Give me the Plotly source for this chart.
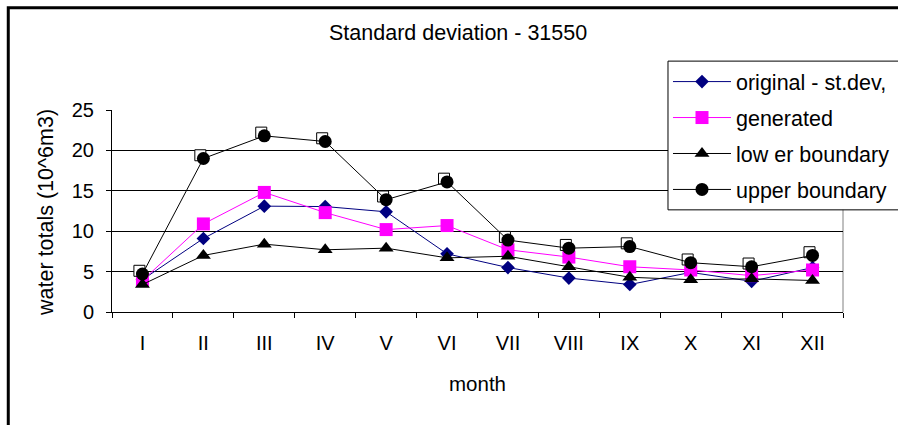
import plotly.graph_objects as go

months = ["I", "II", "III", "IV", "V", "VI", "VII", "VIII", "IX", "X", "XI", "XII"]
original = [4.0, 9.1, 13.1, 13.05, 12.4, 7.2, 5.5, 4.2, 3.4, 4.9, 3.8, 5.5]
generated = [3.9, 10.9, 14.8, 12.3, 10.2, 10.7, 7.7, 6.8, 5.6, 5.2, 4.5, 5.2]
lower = [3.4, 7.0, 8.4, 7.7, 7.9, 6.7, 6.9, 5.6, 4.3, 4.0, 4.1, 3.9]
upper = [4.7, 19.0, 21.8, 21.1, 13.9, 16.1, 8.9, 7.9, 8.1, 6.1, 5.6, 7.0]

title_text = "Standard deviation - 31550"
y_title = "water totals (10^6m3)"
x_title = "month"

FONT = "Arial, Liberation Sans, sans-serif"

fig = go.Figure()

fig.add_trace(go.Scatter(
    x=months, y=original, name="original - st.dev,", mode="lines+markers",
    line=dict(color="#000080", width=1),
    marker=dict(symbol="diamond", size=10.5, color="#000080"),
    legendgroup="a"))
fig.add_trace(go.Scatter(
    x=months, y=generated, name="generated", mode="lines+markers",
    line=dict(color="#FF00FF", width=1),
    marker=dict(symbol="square", size=13, color="#FF00FF"),
    legendgroup="b"))
fig.add_trace(go.Scatter(
    x=months, y=lower, name="low er boundary", mode="lines+markers",
    line=dict(color="#000000", width=1),
    marker=dict(symbol="triangle-up", size=13, color="#000000"),
    legendgroup="c"))
# white squares drawn slightly up-left behind the circles (Excel marker style)
fig.add_trace(go.Scatter(
    x=months, y=upper, mode="markers", showlegend=False, hoverinfo="skip",
    xaxis="x2", yaxis="y2",
    marker=dict(symbol="square", size=11, color="white",
                line=dict(color="black", width=1)),
    legendgroup="d"))
fig.add_trace(go.Scatter(
    x=months, y=upper, name="upper boundary", mode="lines+markers",
    xaxis="x3", yaxis="y3",
    line=dict(color="#000000", width=1),
    marker=dict(symbol="circle", size=13, color="#000000"),
    legendgroup="d"))

fig.update_layout(
    width=898, height=425,
    margin=dict(l=112, r=55, t=110, b=113, autoexpand=False),
    paper_bgcolor="white", plot_bgcolor="white",
    font=dict(family=FONT, size=20, color="black"),
    showlegend=True,
    legend=dict(
        x=0.7606, y=1.242, xanchor="left", yanchor="top",
        bgcolor="rgba(0,0,0,0)", borderwidth=0,
        font=dict(family=FONT, size=21.5, color="black"),
        tracegroupgap=5, itemwidth=58,
    ),
    xaxis=dict(
        type="category", categoryorder="array", categoryarray=months,
        range=[-0.5, 11.5], showgrid=False, zeroline=False,
        showline=True, linecolor="black", linewidth=1,
        ticks="outside", ticklen=5, tickcolor="black", tickson="boundaries",
        ticklabelstandoff=13, tickfont=dict(size=20),
    ),
    yaxis=dict(
        range=[0, 25], dtick=5, tick0=0, showgrid=True, gridcolor="black",
        gridwidth=1, zeroline=False, showline=True, linecolor="black",
        linewidth=1, ticks="outside", ticklen=5, tickcolor="black",
        ticklabelstandoff=8, tickfont=dict(size=20),
    ),
    xaxis2=dict(
        type="category", categoryorder="array", categoryarray=months,
        overlaying="x", range=[-0.45, 11.55], visible=False,
    ),
    yaxis2=dict(overlaying="y", range=[-0.4, 24.6], visible=False),
    xaxis3=dict(
        type="category", categoryorder="array", categoryarray=months,
        overlaying="x", range=[-0.5, 11.5], visible=False,
    ),
    yaxis3=dict(overlaying="y", range=[0, 25], visible=False),
    annotations=[
        dict(text=title_text, xref="paper", yref="paper", x=0.473, y=1.383,
             xanchor="center", yanchor="middle", showarrow=False,
             font=dict(size=21.5)),
        dict(text=y_title, xref="paper", yref="paper", x=-0.0903, y=0.495,
             xanchor="center", yanchor="middle", textangle=-90,
             showarrow=False, font=dict(size=21.5)),
        dict(text=x_title, xref="paper", yref="paper", x=0.5, y=-0.354,
             xanchor="center", yanchor="middle", showarrow=False,
             font=dict(size=20.5)),
    ],
    shapes=[
        # outer chart frame (extends beyond the visible page)
        dict(type="rect", xref="paper", yref="paper",
             x0=-0.1419, x1=2.0, y0=-2.0, y1=1.5057,
             line=dict(color="black", width=3), layer="below"),
        # grey right border of plot area
        dict(type="line", xref="paper", yref="paper",
             x0=1, x1=1, y0=0, y1=1,
             line=dict(color="#808080", width=1), layer="below"),
        # legend box, running past the right edge of the page
        dict(type="rect", xref="paper", yref="paper",
             x0=0.7606, x1=2.0, y0=0.5057, y1=1.242,
             fillcolor="white", line=dict(color="black", width=1),
             layer="above"),
    ],
)

fig.write_html("out.html")
